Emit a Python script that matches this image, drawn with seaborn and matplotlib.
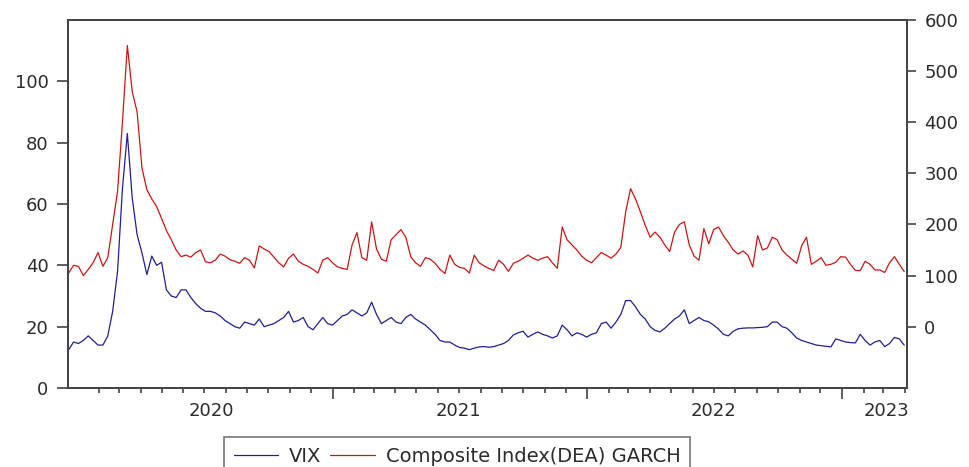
import pandas as pd
import matplotlib
matplotlib.use("Agg")
import matplotlib.pyplot as plt
import matplotlib.dates as mdates
from matplotlib.lines import Line2D
import seaborn as sns

# Weekly observations, Dec 2019 - Mar 2023
weeks = pd.date_range("2019-12-20", "2023-03-31", freq="W-FRI")

vix = [
    12.5, 15, 14.5, 15.5, 17, 15.5, 14, 14, 17, 25,
    38, 65, 83, 62, 50, 44, 37, 43, 40, 41,
    32, 30, 29.5, 32, 32, 29.5, 27.5, 26, 25, 25,
    24.5, 23.5, 22, 21, 20, 19.5, 21.5, 21, 20.5, 22.5,
    20, 20.5, 21, 22, 23, 25, 21.5, 22, 23, 20,
    19, 21, 23, 21, 20.5, 22, 23.5, 24, 25.5, 24.5,
    23.5, 24.5, 28, 24, 21, 22, 23, 21.5, 21, 23,
    24, 22.5, 21.5, 20.5, 19, 17.5, 15.5, 15, 15, 14,
    13.2, 13, 12.5, 13, 13.4, 13.5, 13.3, 13.5, 14, 14.5,
    15.5, 17.3, 18, 18.5, 16.6, 17.5, 18.3, 17.5, 17, 16.3,
    17, 20.5, 19, 17, 18, 17.5, 16.6, 17.5, 18, 21,
    21.5, 19.5, 21.5, 24, 28.5, 28.5, 26.5, 24, 22.5, 20,
    18.8, 18.3, 19.5, 21, 22.5, 23.5, 25.5, 21, 22, 23,
    22, 21.6, 20.5, 19.2, 17.5, 17, 18.5, 19.3, 19.5, 19.6,
    19.6, 19.7, 19.8, 20, 21.5, 21.5, 20, 19.5, 18, 16.3,
    15.5, 15, 14.5, 14, 13.8, 13.6, 13.4, 16, 15.5, 15,
    14.8, 14.7, 17.5, 15.5, 14, 15, 15.5, 13.5, 14.5, 16.5,
    16, 14,
]

garch = [
    105, 120, 118, 100, 112, 125, 145, 118, 135, 200,
    265, 400, 550, 460, 420, 310, 268, 250, 235, 212,
    188, 170, 150, 137, 140, 136, 145, 150, 127, 125,
    130, 142, 138, 131, 128, 124, 135, 130, 115, 158,
    152, 147, 136, 125, 117, 134, 142, 128, 122, 118,
    112, 105, 130, 135, 125, 117, 114, 112, 160, 184,
    135, 130, 205, 152, 132, 128, 170, 180, 190, 175,
    137, 125, 118, 135, 132, 124, 112, 104, 140, 122,
    116, 114, 105, 140, 125, 119, 114, 110, 130, 122,
    108, 124, 128, 134, 140, 134, 130, 134, 137, 125,
    114, 195, 170, 160, 150, 138, 130, 125, 135, 145,
    140, 134, 142, 155, 225, 270, 250, 225, 198, 175,
    185, 175, 160, 147, 185, 200, 205, 160, 138, 130,
    192, 162, 190, 195, 178, 165, 150, 142, 148, 140,
    117, 178, 150, 154, 175, 170, 150, 140, 132, 124,
    158, 175, 122, 128, 135, 120, 122, 126, 137, 136,
    122, 110, 110, 128, 122, 111, 111, 106, 125, 137,
    122, 108,
]

year_labels = ["2020", "2021", "2022", "2023"]
year_label_dates = ["2020-07-12", "2021-07-01", "2022-07-01", "2023-03-05"]
year_starts = ["2021-01-01", "2022-01-01", "2023-01-01"]

series_names = ["VIX", "Composite Index(DEA) GARCH"]
blue = "#1f1f96"
red = "#cc1414"
ink = "#2b2b2b"

sns.set_style("ticks")
plt.rcParams["font.family"] = ["DejaVu Sans"]
plt.rcParams["axes.edgecolor"] = "#444444"

df = pd.DataFrame({"date": weeks, "vix": vix, "garch": garch})

fig = plt.figure(figsize=(9.69, 4.67), dpi=100)
ax = fig.add_axes([68 / 969, 1 - 388 / 467, 839 / 969, 368 / 467])
ax2 = ax.twinx()

sns.lineplot(data=df, x="date", y="vix", ax=ax, color=blue, linewidth=0.9)
sns.lineplot(data=df, x="date", y="garch", ax=ax2, color=red, linewidth=0.9)

ax.set_xlim(pd.Timestamp("2019-12-19"), pd.Timestamp("2023-04-04"))
ax.set_ylim(0, 120)
ax2.set_ylim(-120, 600)

ax.set_xlabel("")
ax.set_ylabel("")
ax2.set_ylabel("")

ax.set_yticks([0, 20, 40, 60, 80, 100])
ax2.set_yticks([0, 100, 200, 300, 400, 500, 600])

ax.set_xticks([pd.Timestamp(d) for d in year_starts])
ax.xaxis.set_minor_locator(mdates.MonthLocator(bymonth=range(2, 13)))
ax.xaxis.set_major_formatter(plt.NullFormatter())
ax.tick_params(axis="x", which="major", direction="out", length=8, width=1.1, color="#333333")
ax.tick_params(axis="x", which="minor", direction="out", length=3.5, width=1.1, color="#333333")
ax.tick_params(axis="y", direction="out", length=8, width=1.1, pad=6,
               labelsize=13, labelcolor=ink, color="#333333")
ax2.tick_params(axis="y", direction="out", length=6.5, width=1.1, pad=6,
                labelsize=13, labelcolor=ink, color="#333333")

for s in ["left", "right", "top", "bottom"]:
    for a in (ax, ax2):
        a.spines[s].set_visible(True)
        a.spines[s].set_linewidth(1.3)
        a.spines[s].set_color("#444444")

for lab, d in zip(year_labels, year_label_dates):
    ax.text(pd.Timestamp(d), -0.063, lab, transform=ax.get_xaxis_transform(),
            ha="center", va="center", fontsize=13, color=ink)

handles = [Line2D([], [], color=blue, linewidth=0.9),
           Line2D([], [], color=red, linewidth=0.9)]
leg = fig.legend(handles, series_names, loc="upper left",
                 bbox_to_anchor=(224 / 969, 1 - 437 / 467), ncol=2,
                 frameon=True, fancybox=False, fontsize=14,
                 handlelength=2.3, handletextpad=0.55, columnspacing=0.45,
                 borderpad=0.5, borderaxespad=0)
leg.get_frame().set_edgecolor("#555555")
leg.get_frame().set_linewidth(1.2)
for t in leg.get_texts():
    t.set_color(ink)

fig.savefig("out.png", dpi=100)
